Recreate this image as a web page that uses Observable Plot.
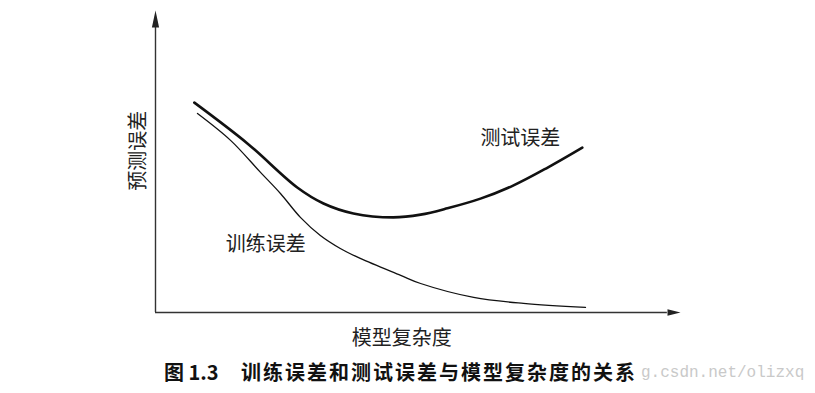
<!DOCTYPE html>
<html>
<head>
<meta charset="utf-8">
<script src="https://cdn.jsdelivr.net/npm/d3@7"></script>
<script src="https://cdn.jsdelivr.net/npm/@observablehq/plot@0.6"></script>
<style>
  body { margin: 0; background: #fff; }
  #wrap { position: relative; width: 815px; height: 393px; overflow: hidden; }
  #caption { position: relative; height: 41px; font-family: "Noto Sans CJK SC", sans-serif; }
  #caption .fig { position: absolute; left: 164px; top: 9px; font-size: 20px; line-height: 22px; font-weight: bold; color: #111; }
  #caption .txt { position: absolute; left: 241px; top: 9px; font-size: 20px; line-height: 22px; font-weight: bold; color: #111; letter-spacing: 2px; }
  #caption .wm { position: absolute; left: 641px; top: 11px; font-family: "Liberation Mono", monospace; font-size: 16px; line-height: 20px; color: #c9c9c9; }
</style>
</head>
<body>
<div id="wrap">
  <div id="chart"></div>
  <div id="caption"></div>
</div>
<script>
// Model complexity (x) and error (y) (arbitrary units 0-100)
const testX  = [7.4, 17.5, 27.0, 32.0, 37.7, 45.3, 50.5, 55.6, 61.9, 68.2, 74.7, 81.3];
const testY  = [69.5, 56.0, 41.4, 36.1, 32.8, 31.5, 32.4, 34.5, 37.7, 42.1, 48.0, 54.6];
const trainX = [8.0, 14.3, 20.0, 23.8, 27.6, 31.4, 35.2, 39.0, 46.7, 50.5, 60.6, 70.1, 81.9];
const trainY = [65.9, 57.0, 46.4, 39.4, 31.5, 25.5, 21.2, 17.9, 12.3, 9.6, 5.0, 3.0, 1.7];

const curveLabels = ["测试误差", "训练误差"];
const curveLabelX = [69.5, 21.0];
const curveLabelY = [57.6, 22.5];

const xAxisLabel = "模型复杂度";
const yAxisLabel = "预测误差";
const figNumber = "图 1.3";
const captionText = "训练误差和测试误差与模型复杂度的关系";
const watermark = "g.csdn.net/olizxq";

const axisMax = 100;

const test = testX.map((x, i) => ({x, y: testY[i]}));
const train = trainX.map((x, i) => ({x, y: trainY[i]}));
const labels = curveLabels.map((t, i) => ({t, x: curveLabelX[i], y: curveLabelY[i]}));

// narrow filled arrow head, tip at origin, pointing up
const arrowHead = (len, half) => ({
  draw(ctx) {
    ctx.moveTo(0, 0);
    ctx.lineTo(half, len);
    ctx.lineTo(-half, len);
    ctx.closePath();
  }
});

const font = "'Noto Sans CJK SC', sans-serif";

const chart = Plot.plot({
  width: 815,
  height: 352,
  marginLeft: 155,
  marginRight: 135,
  marginTop: 10,
  marginBottom: 40,
  x: {domain: [0, axisMax], axis: null},
  y: {domain: [0, axisMax], axis: null},
  style: {fontFamily: font, background: "#fff"},
  marks: [
    Plot.ruleY([0], {x1: 0, x2: axisMax * 0.975, stroke: "#333", strokeWidth: 1.4}),
    Plot.ruleX([0], {y1: 0, y2: axisMax * 0.96, stroke: "#333", strokeWidth: 1.4}),
    Plot.dot([{x: 0, y: axisMax}], {x: "x", y: "y", symbol: arrowHead(17, 3.6), r: 5, fill: "#222", stroke: "none"}),
    Plot.dot([{x: axisMax, y: 0}], {x: "x", y: "y", symbol: arrowHead(13, 3.2), r: 5, fill: "#222", stroke: "none", rotate: 90}),
    Plot.line(test, {x: "x", y: "y", curve: "catmull-rom", stroke: "#111", strokeWidth: 2.6}),
    Plot.line(train, {x: "x", y: "y", curve: "catmull-rom", stroke: "#111", strokeWidth: 1.3}),
    Plot.text(labels, {x: "x", y: "y", text: "t", fontSize: 20, fill: "#222"}),
    Plot.text([xAxisLabel], {x: 46.9, y: 0, text: d => d, dy: 26, fontSize: 20, fill: "#222"}),
    Plot.text([yAxisLabel], {x: 0, y: 53.6, text: d => d, dx: -17, rotate: -90, fontSize: 20, fill: "#222"})
  ]
});
document.getElementById("chart").append(chart);

const cap = document.getElementById("caption");
const wm = document.createElement("span"); wm.className = "wm"; wm.textContent = watermark; cap.append(wm);
const f = document.createElement("span"); f.className = "fig"; f.textContent = figNumber; cap.append(f);
const t = document.createElement("span"); t.className = "txt"; t.textContent = captionText; cap.append(t);
</script>
</body>
</html>
